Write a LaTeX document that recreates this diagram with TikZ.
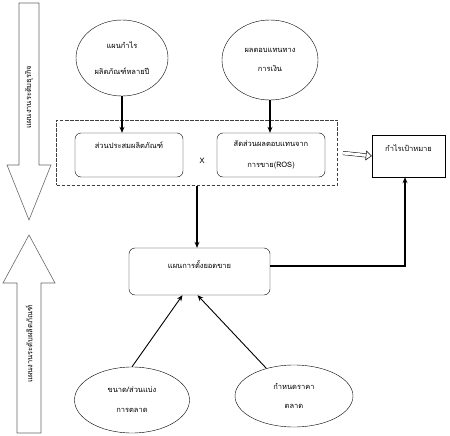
\documentclass[tikz,border=0pt]{standalone}
\usepackage{fontspec}
\newfontfamily\thaifont[Script=Thai]{Loma}
\usetikzlibrary{arrows.meta,shapes.geometric}

\begin{document}
\begin{tikzpicture}[x=1pt,y=-1pt,
	font=\thaifont\fontsize{7.5}{9}\selectfont,
	oval/.style={draw, ellipse, inner sep=0pt, align=center},
	roundbox/.style={draw, rounded corners=.6em, inner sep=0pt, align=center},
	link/.style={line width=1.3pt, -{Stealth[length=6pt,width=5pt]}},
	thinlink/.style={line width=.9pt, -{Stealth[length=6pt,width=5pt]}}]
	\useasboundingbox (0,0) rectangle (450,436);
	% big side arrows
	\draw [line width=.6pt, gray!80!black] (19,3) -- (39,3) -- (39,165) -- (51,165) -- (29,220) -- (7,165) -- (19,165) -- cycle;
	\node (bizlabel) [rotate=90] at (29,97) {แผนงานระดับธุรกิจ};
	\draw [line width=.6pt, gray!80!black] (17,433) -- (41,433) -- (41,283) -- (55,283) -- (29,235) -- (3,283) -- (17,283) -- cycle;
	\node (prodlabel) [rotate=90] at (29,344) {แผนงานระดับผลิตภัณฑ์};
	% inputs on top
	\node (profit) [oval, minimum width=92pt, minimum height=76pt] at (122,58) {แผนกำไร\\[17pt]ผลิตภัณฑ์หลายปี};
	\node (finance) [oval, minimum width=96pt, minimum height=80pt] at (270,60) {ผลตอบแทนทาง\\[10pt]การเงิน};
	% middle block
	\node (plan) [draw, black!75, dash pattern=on 3.5pt off 1.5pt, line width=1pt, minimum width=281pt, minimum height=65pt] at (197,152.5) {};
	\node (mix) [roundbox, minimum width=108pt, text height=15pt, text depth=29pt] at (129,155) {ส่วนประสมผลิตภัณฑ์};
	\node (times) at (202,161) {X};
	\node (ros) [roundbox, minimum width=108pt, minimum height=44pt] at (271,155) {สัดส่วนผลตอบแทนจาก\\[12pt]การขาย(ROS)};
	\node (target) [draw, inner sep=0pt, minimum width=73pt, text height=16pt, text depth=26pt] at (408.5,156) {กำไรเป้าหมาย};
	\node (sales) [roundbox, minimum width=141pt, text height=20pt, text depth=27pt] at (199.5,271.5) {แผนการตั้งยอดขาย};
	% inputs at the bottom
	\node (share) [oval, minimum width=115pt, minimum height=66pt] at (132,400) {ขนาด/ส่วนแบ่ง\\[11pt]การตลาด};
	\node (price) [oval, minimum width=118pt, minimum height=62pt] at (294,396) {กำหนดราคา\\[10pt]ตลาด};
	% connectors
	\draw [link] (profit.south) -- (profit.south |- mix.north);
	\draw [link] (finance.south) -- (finance.south |- ros.north);
	\draw [link] (plan.south) -- (plan.south |- sales.north);
	\draw [link] ([yshift=5.5pt]sales.east) -| ([xshift=-3.5pt]target.south);
	\draw [thinlink] (share.north) -- ([xshift=-17pt]sales.south);
	\draw [thinlink] (price.135) -- ([xshift=-2pt]sales.south);
	\draw [line width=.5pt, double distance=3pt, -{Triangle[open,length=6pt,width=10pt]}, shorten <=5pt] (plan.east) -- (target.west);
\end{tikzpicture}
\end{document}
